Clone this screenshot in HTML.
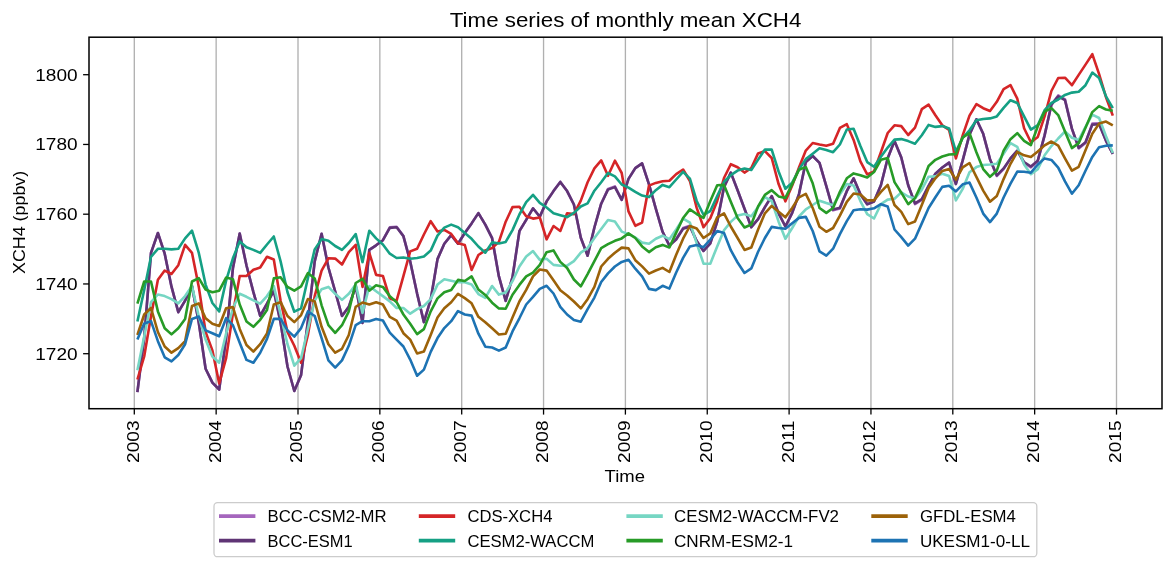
<!DOCTYPE html><html><head><meta charset="utf-8"><title>Time series of monthly mean XCH4</title>
<style>html,body{margin:0;padding:0;background:#fff}svg{display:block;will-change:transform;opacity:0.999}text{font-family:"Liberation Sans",sans-serif;fill:#000}</style></head><body>
<svg width="1173" height="568" viewBox="0 0 1173 568">
<rect width="1173" height="568" fill="#fff"/>
<line x1="134.30" y1="37.2" x2="134.30" y2="408.7" stroke="#b0b0b0" stroke-width="1.33"/>
<line x1="216.15" y1="37.2" x2="216.15" y2="408.7" stroke="#b0b0b0" stroke-width="1.33"/>
<line x1="298.00" y1="37.2" x2="298.00" y2="408.7" stroke="#b0b0b0" stroke-width="1.33"/>
<line x1="379.85" y1="37.2" x2="379.85" y2="408.7" stroke="#b0b0b0" stroke-width="1.33"/>
<line x1="461.70" y1="37.2" x2="461.70" y2="408.7" stroke="#b0b0b0" stroke-width="1.33"/>
<line x1="543.55" y1="37.2" x2="543.55" y2="408.7" stroke="#b0b0b0" stroke-width="1.33"/>
<line x1="625.40" y1="37.2" x2="625.40" y2="408.7" stroke="#b0b0b0" stroke-width="1.33"/>
<line x1="707.25" y1="37.2" x2="707.25" y2="408.7" stroke="#b0b0b0" stroke-width="1.33"/>
<line x1="789.10" y1="37.2" x2="789.10" y2="408.7" stroke="#b0b0b0" stroke-width="1.33"/>
<line x1="870.95" y1="37.2" x2="870.95" y2="408.7" stroke="#b0b0b0" stroke-width="1.33"/>
<line x1="952.80" y1="37.2" x2="952.80" y2="408.7" stroke="#b0b0b0" stroke-width="1.33"/>
<line x1="1034.65" y1="37.2" x2="1034.65" y2="408.7" stroke="#b0b0b0" stroke-width="1.33"/>
<line x1="1116.50" y1="37.2" x2="1116.50" y2="408.7" stroke="#b0b0b0" stroke-width="1.33"/>
<clipPath id="c"><rect x="89.0" y="37.2" width="1073.0" height="371.5"/></clipPath>
<g clip-path="url(#c)" fill="none" stroke-linejoin="round" stroke-linecap="butt">
<path d="M137.4 392.1 L144.2 338.1 L151.0 252.9 L157.9 233.0 L164.7 253.7 L171.5 286.7 L178.3 312.2 L185.1 300.7 L192.0 286.1 L198.8 322.8 L205.6 368.8 L212.4 382.6 L219.2 389.5 L226.1 338.1 L232.9 268.3 L239.7 233.5 L246.5 265.5 L253.4 292.2 L260.2 316.0 L267.0 303.7 L273.8 290.7 L280.6 322.8 L287.5 366.5 L294.3 391.0 L301.1 374.9 L307.9 321.2 L314.7 261.4 L321.6 233.8 L328.4 267.5 L335.2 291.5 L342.0 316.0 L348.8 306.8 L355.7 286.1 L362.5 322.9 L369.3 249.9 L376.1 245.3 L382.9 240.2 L389.8 227.3 L396.6 226.7 L403.4 236.1 L410.2 261.4 L417.1 293.6 L423.9 322.1 L430.7 299.7 L437.5 259.1 L444.3 243.7 L451.2 235.1 L458.0 243.7 L464.8 233.0 L471.6 223.4 L478.4 213.1 L485.3 224.7 L492.1 238.2 L498.9 276.4 L505.7 300.8 L512.5 277.2 L519.4 231.2 L526.2 219.8 L533.0 208.3 L539.8 216.8 L546.6 201.4 L553.5 191.1 L560.3 181.9 L567.1 191.1 L573.9 204.5 L580.8 237.8 L587.6 255.7 L594.4 227.5 L601.2 203.7 L608.0 188.9 L614.9 186.4 L621.7 199.9 L628.5 178.9 L635.3 168.1 L642.1 163.4 L649.0 184.4 L655.8 208.7 L662.6 231.8 L669.4 245.6 L676.2 238.9 L683.1 228.1 L689.9 225.8 L696.7 241.0 L703.5 251.0 L710.3 243.3 L717.2 221.7 L724.0 187.2 L730.8 172.6 L737.6 190.2 L744.5 208.7 L751.3 227.2 L758.1 219.2 L764.9 207.1 L771.7 196.1 L778.6 213.3 L785.4 226.5 L792.2 212.8 L799.0 194.1 L805.8 162.1 L812.7 156.0 L819.5 162.9 L826.3 186.2 L833.1 210.3 L839.9 208.4 L846.8 191.2 L853.6 178.3 L860.4 194.2 L867.2 204.2 L874.0 201.6 L880.9 185.2 L887.7 158.3 L894.5 141.1 L901.3 157.5 L908.2 185.2 L915.0 204.1 L921.8 199.8 L928.6 185.8 L935.4 173.7 L942.3 167.5 L949.1 162.6 L955.9 184.0 L962.7 160.4 L969.5 134.6 L976.4 119.3 L983.2 133.8 L990.0 159.2 L996.8 176.0 L1003.6 169.1 L1010.5 158.4 L1017.3 150.7 L1024.1 163.0 L1030.9 167.3 L1037.8 160.7 L1044.6 135.4 L1051.4 104.8 L1058.2 95.4 L1065.0 99.4 L1071.9 128.6 L1078.7 148.4 L1085.5 143.0 L1092.3 123.6 L1099.1 123.2 L1106.0 140.8 L1112.8 153.8" stroke="#a566bd" stroke-width="2.6"/>
<path d="M137.4 392.1 L144.2 338.1 L151.0 252.9 L157.9 233.0 L164.7 253.7 L171.5 286.7 L178.3 312.2 L185.1 300.7 L192.0 286.1 L198.8 322.8 L205.6 368.8 L212.4 382.6 L219.2 389.5 L226.1 338.1 L232.9 268.3 L239.7 233.5 L246.5 265.5 L253.4 292.2 L260.2 316.0 L267.0 303.7 L273.8 290.7 L280.6 322.8 L287.5 366.5 L294.3 391.0 L301.1 374.9 L307.9 321.2 L314.7 261.4 L321.6 233.8 L328.4 267.5 L335.2 291.5 L342.0 316.0 L348.8 306.8 L355.7 286.1 L362.5 322.9 L369.3 249.9 L376.1 245.3 L382.9 240.2 L389.8 227.9 L396.6 227.3 L403.4 236.1 L410.2 261.4 L417.1 293.6 L423.9 322.1 L430.7 299.7 L437.5 259.1 L444.3 243.7 L451.2 235.1 L458.0 243.7 L464.8 233.0 L471.6 223.4 L478.4 213.1 L485.3 224.7 L492.1 238.2 L498.9 276.4 L505.7 300.8 L512.5 277.2 L519.4 231.2 L526.2 219.8 L533.0 208.3 L539.8 216.8 L546.6 201.4 L553.5 191.1 L560.3 181.9 L567.1 191.1 L573.9 204.5 L580.8 237.8 L587.6 255.7 L594.4 227.5 L601.2 203.7 L608.0 189.6 L614.9 187.1 L621.7 199.9 L628.5 178.9 L635.3 168.1 L642.1 163.4 L649.0 184.4 L655.8 208.7 L662.6 231.8 L669.4 245.6 L676.2 239.5 L683.1 228.8 L689.9 226.5 L696.7 241.0 L703.5 251.0 L710.3 243.3 L717.2 221.7 L724.0 187.2 L730.8 172.6 L737.6 190.2 L744.5 208.7 L751.3 227.2 L758.1 219.2 L764.9 207.1 L771.7 196.1 L778.6 213.3 L785.4 226.5 L792.2 212.8 L799.0 194.1 L805.8 162.1 L812.7 156.0 L819.5 162.9 L826.3 186.2 L833.1 209.6 L839.9 207.7 L846.8 191.2 L853.6 178.3 L860.4 194.2 L867.2 204.2 L874.0 201.6 L880.9 185.2 L887.7 158.3 L894.5 141.1 L901.3 157.5 L908.2 185.2 L915.0 203.4 L921.8 199.1 L928.6 185.8 L935.4 173.7 L942.3 167.5 L949.1 162.6 L955.9 184.0 L962.7 160.4 L969.5 134.6 L976.4 119.3 L983.2 133.8 L990.0 159.2 L996.8 175.3 L1003.6 168.4 L1010.5 158.4 L1017.3 150.7 L1024.1 162.2 L1030.9 166.5 L1037.8 160.7 L1044.6 135.4 L1051.4 104.8 L1058.2 96.4 L1065.0 100.2 L1071.9 128.6 L1078.7 147.7 L1085.5 142.3 L1092.3 124.6 L1099.1 124.2 L1106.0 140.8 L1112.8 153.8" stroke="#5f3475" stroke-width="2.6"/>
<path d="M137.4 379.5 L144.2 356.5 L151.0 316.3 L157.9 279.8 L164.7 270.6 L171.5 274.0 L178.3 265.2 L185.1 244.8 L192.0 252.9 L198.8 286.9 L205.6 332.0 L212.4 350.4 L219.2 383.4 L226.1 358.1 L232.9 313.6 L239.7 276.0 L246.5 276.0 L253.4 269.8 L260.2 267.5 L267.0 256.8 L273.8 259.5 L280.6 300.7 L287.5 332.0 L294.3 345.8 L301.1 362.7 L307.9 335.0 L314.7 296.1 L321.6 270.6 L328.4 258.3 L335.2 258.6 L342.0 264.5 L348.8 252.2 L355.7 244.8 L362.5 286.9 L369.3 252.9 L376.1 274.9 L382.9 276.0 L389.8 298.4 L396.6 300.7 L403.4 276.1 L410.2 251.4 L417.1 248.8 L423.9 234.5 L430.7 221.2 L437.5 231.5 L444.3 229.9 L451.2 233.9 L458.0 243.3 L464.8 245.0 L471.6 270.0 L478.4 255.0 L485.3 250.4 L492.1 248.1 L498.9 241.9 L505.7 221.7 L512.5 207.1 L519.4 206.8 L526.2 216.3 L533.0 218.6 L539.8 217.5 L546.6 239.3 L553.5 226.0 L560.3 231.0 L567.1 213.2 L573.9 214.1 L580.8 200.6 L587.6 182.2 L594.4 168.4 L601.2 160.4 L608.0 175.8 L614.9 160.7 L621.7 173.0 L628.5 211.4 L635.3 225.8 L642.1 222.6 L649.0 185.6 L655.8 182.9 L662.6 181.3 L669.4 180.7 L676.2 174.1 L683.1 169.5 L689.9 181.0 L696.7 207.9 L703.5 227.2 L710.3 218.3 L717.2 201.0 L724.0 178.0 L730.8 164.2 L737.6 167.2 L744.5 172.6 L751.3 168.0 L758.1 153.4 L764.9 151.1 L771.7 158.0 L778.6 184.1 L785.4 201.3 L792.2 185.6 L799.0 167.5 L805.8 150.6 L812.7 143.0 L819.5 144.5 L826.3 145.7 L833.1 143.7 L839.9 127.9 L846.8 124.2 L853.6 139.9 L860.4 161.4 L867.2 174.4 L874.0 171.4 L880.9 152.2 L887.7 133.0 L894.5 125.3 L901.3 126.1 L908.2 135.0 L915.0 127.6 L921.8 109.2 L928.6 104.6 L935.4 115.3 L942.3 125.3 L949.1 129.9 L955.9 158.4 L962.7 135.4 L969.5 115.6 L976.4 104.1 L983.2 108.2 L990.0 111.0 L996.8 101.8 L1003.6 89.2 L1010.5 85.2 L1017.3 98.7 L1024.1 128.2 L1030.9 142.3 L1037.8 136.9 L1044.6 116.4 L1051.4 91.0 L1058.2 78.0 L1065.0 77.7 L1071.9 85.2 L1078.7 74.9 L1085.5 64.6 L1092.3 54.2 L1099.1 74.2 L1106.0 97.2 L1112.8 115.6" stroke="#d52527" stroke-width="2.6"/>
<path d="M137.4 321.4 L144.2 289.9 L151.0 256.8 L157.9 248.8 L164.7 248.8 L171.5 249.4 L178.3 248.8 L185.1 238.4 L192.0 230.7 L198.8 252.9 L205.6 284.6 L212.4 303.0 L219.2 311.4 L226.1 280.7 L232.9 258.3 L239.7 241.4 L246.5 247.3 L253.4 249.9 L260.2 252.9 L267.0 244.5 L273.8 236.5 L280.6 261.4 L287.5 292.2 L294.3 311.7 L301.1 308.3 L307.9 278.3 L314.7 249.4 L321.6 239.1 L328.4 240.7 L335.2 246.0 L342.0 249.9 L348.8 243.0 L355.7 234.1 L362.5 262.1 L369.3 230.7 L376.1 238.4 L382.9 244.5 L389.8 253.7 L396.6 258.0 L403.4 257.5 L410.2 258.8 L417.1 258.0 L423.9 256.5 L430.7 250.6 L437.5 235.6 L444.3 227.6 L451.2 224.6 L458.0 227.2 L464.8 232.9 L471.6 238.8 L478.4 246.5 L485.3 252.7 L492.1 242.4 L498.9 243.5 L505.7 241.9 L512.5 230.1 L519.4 214.5 L526.2 202.2 L533.0 194.8 L539.8 202.9 L546.6 207.5 L553.5 213.2 L560.3 215.2 L567.1 217.1 L573.9 212.9 L580.8 206.5 L587.6 203.4 L594.4 190.7 L601.2 182.2 L608.0 173.0 L614.9 176.4 L621.7 184.5 L628.5 187.6 L635.3 191.9 L642.1 195.6 L649.0 197.1 L655.8 190.2 L662.6 184.9 L669.4 187.2 L676.2 179.5 L683.1 171.8 L689.9 178.7 L696.7 201.0 L703.5 214.8 L710.3 211.0 L717.2 196.1 L724.0 181.8 L730.8 175.2 L737.6 170.6 L744.5 168.5 L751.3 170.0 L758.1 159.6 L764.9 149.6 L771.7 149.6 L778.6 171.5 L785.4 188.7 L792.2 182.6 L799.0 169.5 L805.8 159.1 L812.7 153.7 L819.5 148.3 L826.3 149.9 L833.1 152.2 L839.9 144.5 L846.8 129.5 L853.6 128.8 L860.4 146.0 L867.2 162.1 L874.0 166.8 L880.9 156.8 L887.7 147.6 L894.5 139.6 L901.3 139.1 L908.2 141.1 L915.0 143.7 L921.8 135.3 L928.6 124.9 L935.4 126.9 L942.3 126.1 L949.1 128.4 L955.9 151.6 L962.7 137.8 L969.5 130.3 L976.4 120.2 L983.2 119.0 L990.0 118.4 L996.8 116.4 L1003.6 107.9 L1010.5 100.2 L1017.3 103.0 L1024.1 116.4 L1030.9 129.6 L1037.8 125.1 L1044.6 110.2 L1051.4 103.0 L1058.2 99.5 L1065.0 94.9 L1071.9 92.6 L1078.7 91.8 L1085.5 85.2 L1092.3 72.6 L1099.1 78.0 L1106.0 96.4 L1112.8 108.2" stroke="#15a084" stroke-width="2.6"/>
<path d="M137.4 370.3 L144.2 336.6 L151.0 302.2 L157.9 294.5 L164.7 296.1 L171.5 299.1 L178.3 303.4 L185.1 296.1 L192.0 286.1 L198.8 316.6 L205.6 339.6 L212.4 356.5 L219.2 362.7 L226.1 333.5 L232.9 308.3 L239.7 293.8 L246.5 296.8 L253.4 300.4 L260.2 303.7 L267.0 296.1 L273.8 286.1 L280.6 314.5 L287.5 344.2 L294.3 365.7 L301.1 358.1 L307.9 328.9 L314.7 300.7 L321.6 289.2 L328.4 286.9 L335.2 293.8 L342.0 299.9 L348.8 293.8 L355.7 284.6 L362.5 312.9 L369.3 286.1 L376.1 291.2 L382.9 296.1 L389.8 301.4 L396.6 308.0 L403.4 308.0 L410.2 313.7 L417.1 309.1 L423.9 306.0 L430.7 299.1 L437.5 284.6 L444.3 279.2 L451.2 280.7 L458.0 282.3 L464.8 282.3 L471.6 284.4 L478.4 294.1 L485.3 297.8 L492.1 286.0 L498.9 294.6 L505.7 292.6 L512.5 281.2 L519.4 266.5 L526.2 256.5 L533.0 251.1 L539.8 259.9 L546.6 258.8 L553.5 264.9 L560.3 265.7 L567.1 265.7 L573.9 261.1 L580.8 252.7 L587.6 248.1 L594.4 238.1 L601.2 228.9 L608.0 220.0 L614.9 221.5 L621.7 231.6 L628.5 234.1 L635.3 237.5 L642.1 242.6 L649.0 243.8 L655.8 238.7 L662.6 235.7 L669.4 239.2 L676.2 229.4 L683.1 218.6 L689.9 222.6 L696.7 243.3 L703.5 263.7 L710.3 263.7 L717.2 246.4 L724.0 230.3 L730.8 221.9 L737.6 215.6 L744.5 214.0 L751.3 216.3 L758.1 207.1 L764.9 197.1 L771.7 201.0 L778.6 221.7 L785.4 238.7 L792.2 228.0 L799.0 216.5 L805.8 209.3 L812.7 205.0 L819.5 200.7 L826.3 203.1 L833.1 205.3 L839.9 194.2 L846.8 184.1 L853.6 185.6 L860.4 201.1 L867.2 214.2 L874.0 218.5 L880.9 204.2 L887.7 199.6 L894.5 198.8 L901.3 192.4 L908.2 196.5 L915.0 198.5 L921.8 189.6 L928.6 176.7 L935.4 176.4 L942.3 173.7 L949.1 176.0 L955.9 200.4 L962.7 188.9 L969.5 172.2 L976.4 167.1 L983.2 165.0 L990.0 164.5 L996.8 163.8 L1003.6 153.8 L1010.5 143.1 L1017.3 146.9 L1024.1 164.5 L1030.9 174.2 L1037.8 169.1 L1044.6 155.3 L1051.4 146.1 L1058.2 138.5 L1065.0 131.5 L1071.9 137.7 L1078.7 140.0 L1085.5 126.9 L1092.3 114.7 L1099.1 118.0 L1106.0 136.2 L1112.8 153.0" stroke="#76d6c3" stroke-width="2.6"/>
<path d="M137.4 303.7 L144.2 281.5 L151.0 281.5 L157.9 311.4 L164.7 328.3 L171.5 334.4 L178.3 328.3 L185.1 319.1 L192.0 281.5 L198.8 278.1 L205.6 289.6 L212.4 292.2 L219.2 290.7 L226.1 277.6 L232.9 279.2 L239.7 304.5 L246.5 321.4 L253.4 326.8 L260.2 319.8 L267.0 309.9 L273.8 278.4 L280.6 277.3 L287.5 286.9 L294.3 290.7 L301.1 286.4 L307.9 273.0 L314.7 278.4 L321.6 305.3 L328.4 325.2 L335.2 332.9 L342.0 325.2 L348.8 311.4 L355.7 283.0 L362.5 278.9 L369.3 290.7 L376.1 285.3 L382.9 286.9 L389.8 296.1 L396.6 302.2 L403.4 314.5 L410.2 323.7 L417.1 334.1 L423.9 329.1 L430.7 311.4 L437.5 298.4 L444.3 292.2 L451.2 289.9 L458.0 279.9 L464.8 281.0 L471.6 276.4 L478.4 289.5 L485.3 294.9 L492.1 302.7 L498.9 308.4 L505.7 308.8 L512.5 294.7 L519.4 284.9 L526.2 276.4 L533.0 272.6 L539.8 264.9 L546.6 252.2 L553.5 250.4 L560.3 261.9 L567.1 268.0 L573.9 279.5 L580.8 286.4 L587.6 274.1 L594.4 261.1 L601.2 248.1 L608.0 244.2 L614.9 240.8 L621.7 238.4 L628.5 233.4 L635.3 238.0 L642.1 246.4 L649.0 252.1 L655.8 247.2 L662.6 244.9 L669.4 247.5 L676.2 232.6 L683.1 218.0 L689.9 209.4 L696.7 214.0 L703.5 217.9 L710.3 201.0 L717.2 185.3 L724.0 184.9 L730.8 201.8 L737.6 218.0 L744.5 227.5 L751.3 224.5 L758.1 206.4 L764.9 194.8 L771.7 190.2 L778.6 196.4 L785.4 197.9 L792.2 184.1 L799.0 169.8 L805.8 167.1 L812.7 183.3 L819.5 208.0 L826.3 212.9 L833.1 208.0 L839.9 191.8 L846.8 178.3 L853.6 173.4 L860.4 175.2 L867.2 177.5 L874.0 172.1 L880.9 159.8 L887.7 158.0 L894.5 182.1 L901.3 192.7 L908.2 204.2 L915.0 198.1 L921.8 183.6 L928.6 166.0 L935.4 159.8 L942.3 156.5 L949.1 154.5 L955.9 154.1 L962.7 137.5 L969.5 133.1 L976.4 152.3 L983.2 169.1 L990.0 176.8 L996.8 170.7 L1003.6 150.7 L1010.5 139.2 L1017.3 133.1 L1024.1 140.8 L1030.9 145.1 L1037.8 126.2 L1044.6 111.6 L1051.4 108.2 L1058.2 115.1 L1065.0 131.5 L1071.9 148.1 L1078.7 143.1 L1085.5 127.7 L1092.3 112.1 L1099.1 106.1 L1106.0 109.5 L1112.8 110.7" stroke="#279b27" stroke-width="2.6"/>
<path d="M137.4 335.0 L144.2 314.5 L151.0 308.0 L157.9 332.0 L164.7 346.5 L171.5 352.7 L178.3 348.1 L185.1 341.2 L192.0 306.0 L198.8 303.4 L205.6 318.3 L212.4 323.7 L219.2 326.0 L226.1 308.3 L232.9 307.1 L239.7 328.9 L246.5 345.0 L253.4 351.6 L260.2 344.2 L267.0 333.5 L273.8 304.5 L280.6 302.2 L287.5 316.0 L294.3 322.1 L301.1 315.1 L307.9 299.1 L314.7 301.4 L321.6 326.8 L328.4 344.2 L335.2 352.7 L342.0 348.8 L348.8 335.0 L355.7 306.8 L362.5 302.5 L369.3 304.5 L376.1 302.2 L382.9 304.5 L389.8 316.8 L396.6 320.6 L403.4 333.2 L410.2 339.6 L417.1 353.5 L423.9 351.6 L430.7 335.0 L437.5 317.5 L444.3 308.3 L451.2 302.2 L458.0 293.8 L464.8 298.1 L471.6 303.3 L478.4 316.8 L485.3 322.2 L492.1 328.3 L498.9 334.5 L505.7 333.7 L512.5 317.6 L519.4 301.5 L526.2 289.9 L533.0 276.4 L539.8 269.5 L546.6 270.6 L553.5 280.3 L560.3 290.3 L567.1 295.5 L573.9 301.5 L580.8 308.4 L587.6 299.2 L594.4 286.9 L601.2 266.5 L608.0 258.8 L614.9 252.7 L621.7 247.6 L628.5 248.4 L635.3 260.2 L642.1 266.4 L649.0 273.6 L655.8 270.5 L662.6 267.9 L669.4 272.0 L676.2 254.8 L683.1 238.7 L689.9 226.0 L696.7 228.5 L703.5 238.0 L710.3 233.4 L717.2 217.3 L724.0 213.3 L730.8 226.5 L737.6 238.0 L744.5 249.9 L751.3 247.5 L758.1 229.5 L764.9 213.3 L771.7 205.9 L778.6 211.7 L785.4 217.3 L792.2 207.9 L799.0 197.3 L805.8 193.9 L812.7 208.0 L819.5 226.8 L826.3 231.8 L833.1 228.0 L839.9 215.7 L846.8 201.9 L853.6 193.5 L860.4 194.5 L867.2 200.4 L874.0 200.4 L880.9 191.9 L887.7 184.9 L894.5 205.0 L901.3 211.9 L908.2 224.1 L915.0 221.5 L921.8 205.0 L928.6 188.1 L935.4 178.3 L942.3 170.9 L949.1 169.1 L955.9 179.6 L962.7 167.3 L969.5 163.0 L976.4 176.8 L983.2 190.6 L990.0 201.7 L996.8 196.0 L1003.6 179.1 L1010.5 163.8 L1017.3 151.8 L1024.1 155.3 L1030.9 156.9 L1037.8 151.5 L1044.6 145.4 L1051.4 141.5 L1058.2 145.7 L1065.0 158.4 L1071.9 170.7 L1078.7 166.8 L1085.5 150.3 L1092.3 133.8 L1099.1 123.6 L1106.0 121.6 L1112.8 125.4" stroke="#9c6209" stroke-width="2.6"/>
<path d="M137.4 339.6 L144.2 323.5 L151.0 321.2 L157.9 341.2 L164.7 357.3 L171.5 361.4 L178.3 355.0 L185.1 344.2 L192.0 318.9 L198.8 316.6 L205.6 330.4 L212.4 333.2 L219.2 336.3 L226.1 318.2 L232.9 325.1 L239.7 342.7 L246.5 359.9 L253.4 362.7 L260.2 352.7 L267.0 338.9 L273.8 318.9 L280.6 318.9 L287.5 330.4 L294.3 336.6 L301.1 328.1 L307.9 311.4 L314.7 316.0 L321.6 338.1 L328.4 360.4 L335.2 367.6 L342.0 360.4 L348.8 345.8 L355.7 325.1 L362.5 321.2 L369.3 321.2 L376.1 318.9 L382.9 320.5 L389.8 332.7 L396.6 339.6 L403.4 346.5 L410.2 359.6 L417.1 375.7 L423.9 369.6 L430.7 351.9 L437.5 338.1 L444.3 328.1 L451.2 321.2 L458.0 311.1 L464.8 314.5 L471.6 315.6 L478.4 333.7 L485.3 346.7 L492.1 347.5 L498.9 350.6 L505.7 347.5 L512.5 331.4 L519.4 318.3 L526.2 304.5 L533.0 296.9 L539.8 288.9 L546.6 285.8 L553.5 293.5 L560.3 306.8 L567.1 314.5 L573.9 319.9 L580.8 321.7 L587.6 309.1 L594.4 297.6 L601.2 282.0 L608.0 273.4 L614.9 266.5 L621.7 261.9 L628.5 259.8 L635.3 268.7 L642.1 276.3 L649.0 288.9 L655.8 290.1 L662.6 285.8 L669.4 288.6 L676.2 272.5 L683.1 257.9 L689.9 246.4 L696.7 244.9 L703.5 247.2 L710.3 239.5 L717.2 231.1 L724.0 233.1 L730.8 250.2 L737.6 262.5 L744.5 273.0 L751.3 268.4 L758.1 251.8 L764.9 238.0 L771.7 226.9 L778.6 228.0 L785.4 228.8 L792.2 223.2 L799.0 217.9 L805.8 216.9 L812.7 231.0 L819.5 251.3 L826.3 255.6 L833.1 248.7 L839.9 234.1 L846.8 221.1 L853.6 210.3 L860.4 209.3 L867.2 209.6 L874.0 208.3 L880.9 204.2 L887.7 206.5 L894.5 229.5 L901.3 237.2 L908.2 245.6 L915.0 238.7 L921.8 223.4 L928.6 208.0 L935.4 197.3 L942.3 186.9 L949.1 185.8 L955.9 191.4 L962.7 184.3 L969.5 182.6 L976.4 197.5 L983.2 213.6 L990.0 222.1 L996.8 213.6 L1003.6 197.5 L1010.5 183.7 L1017.3 171.6 L1024.1 171.8 L1030.9 172.7 L1037.8 164.5 L1044.6 158.4 L1051.4 159.9 L1058.2 167.6 L1065.0 181.4 L1071.9 193.7 L1078.7 185.3 L1085.5 170.7 L1092.3 156.9 L1099.1 147.2 L1106.0 145.8 L1112.8 145.4" stroke="#1d73b3" stroke-width="2.6"/>
</g>
<rect x="89.0" y="37.2" width="1073.0" height="371.5" fill="none" stroke="#000" stroke-width="1.5" stroke-linejoin="miter"/>
<line x1="134.30" y1="408.7" x2="134.30" y2="414.6" stroke="#000" stroke-width="1.3"/>
<text transform="translate(138.70,462.9) rotate(-90)" font-size="16.7" textLength="42.4" lengthAdjust="spacingAndGlyphs">2003</text>
<line x1="216.15" y1="408.7" x2="216.15" y2="414.6" stroke="#000" stroke-width="1.3"/>
<text transform="translate(220.55,462.9) rotate(-90)" font-size="16.7" textLength="42.4" lengthAdjust="spacingAndGlyphs">2004</text>
<line x1="298.00" y1="408.7" x2="298.00" y2="414.6" stroke="#000" stroke-width="1.3"/>
<text transform="translate(302.40,462.9) rotate(-90)" font-size="16.7" textLength="42.4" lengthAdjust="spacingAndGlyphs">2005</text>
<line x1="379.85" y1="408.7" x2="379.85" y2="414.6" stroke="#000" stroke-width="1.3"/>
<text transform="translate(384.25,462.9) rotate(-90)" font-size="16.7" textLength="42.4" lengthAdjust="spacingAndGlyphs">2006</text>
<line x1="461.70" y1="408.7" x2="461.70" y2="414.6" stroke="#000" stroke-width="1.3"/>
<text transform="translate(466.10,462.9) rotate(-90)" font-size="16.7" textLength="42.4" lengthAdjust="spacingAndGlyphs">2007</text>
<line x1="543.55" y1="408.7" x2="543.55" y2="414.6" stroke="#000" stroke-width="1.3"/>
<text transform="translate(547.95,462.9) rotate(-90)" font-size="16.7" textLength="42.4" lengthAdjust="spacingAndGlyphs">2008</text>
<line x1="625.40" y1="408.7" x2="625.40" y2="414.6" stroke="#000" stroke-width="1.3"/>
<text transform="translate(629.80,462.9) rotate(-90)" font-size="16.7" textLength="42.4" lengthAdjust="spacingAndGlyphs">2009</text>
<line x1="707.25" y1="408.7" x2="707.25" y2="414.6" stroke="#000" stroke-width="1.3"/>
<text transform="translate(711.65,462.9) rotate(-90)" font-size="16.7" textLength="42.4" lengthAdjust="spacingAndGlyphs">2010</text>
<line x1="789.10" y1="408.7" x2="789.10" y2="414.6" stroke="#000" stroke-width="1.3"/>
<text transform="translate(793.50,462.9) rotate(-90)" font-size="16.7" textLength="42.4" lengthAdjust="spacingAndGlyphs">2011</text>
<line x1="870.95" y1="408.7" x2="870.95" y2="414.6" stroke="#000" stroke-width="1.3"/>
<text transform="translate(875.35,462.9) rotate(-90)" font-size="16.7" textLength="42.4" lengthAdjust="spacingAndGlyphs">2012</text>
<line x1="952.80" y1="408.7" x2="952.80" y2="414.6" stroke="#000" stroke-width="1.3"/>
<text transform="translate(957.20,462.9) rotate(-90)" font-size="16.7" textLength="42.4" lengthAdjust="spacingAndGlyphs">2013</text>
<line x1="1034.65" y1="408.7" x2="1034.65" y2="414.6" stroke="#000" stroke-width="1.3"/>
<text transform="translate(1039.05,462.9) rotate(-90)" font-size="16.7" textLength="42.4" lengthAdjust="spacingAndGlyphs">2014</text>
<line x1="1116.50" y1="408.7" x2="1116.50" y2="414.6" stroke="#000" stroke-width="1.3"/>
<text transform="translate(1120.90,462.9) rotate(-90)" font-size="16.7" textLength="42.4" lengthAdjust="spacingAndGlyphs">2015</text>
<line x1="83.1" y1="353.70" x2="89.0" y2="353.70" stroke="#000" stroke-width="1.3"/>
<text x="35.2" y="359.60" font-size="16.7" textLength="42.4" lengthAdjust="spacingAndGlyphs">1720</text>
<line x1="83.1" y1="283.95" x2="89.0" y2="283.95" stroke="#000" stroke-width="1.3"/>
<text x="35.2" y="289.85" font-size="16.7" textLength="42.4" lengthAdjust="spacingAndGlyphs">1740</text>
<line x1="83.1" y1="214.20" x2="89.0" y2="214.20" stroke="#000" stroke-width="1.3"/>
<text x="35.2" y="220.10" font-size="16.7" textLength="42.4" lengthAdjust="spacingAndGlyphs">1760</text>
<line x1="83.1" y1="144.45" x2="89.0" y2="144.45" stroke="#000" stroke-width="1.3"/>
<text x="35.2" y="150.35" font-size="16.7" textLength="42.4" lengthAdjust="spacingAndGlyphs">1780</text>
<line x1="83.1" y1="74.70" x2="89.0" y2="74.70" stroke="#000" stroke-width="1.3"/>
<text x="35.2" y="80.60" font-size="16.7" textLength="42.4" lengthAdjust="spacingAndGlyphs">1800</text>
<text x="449.8" y="27.3" font-size="19.9" textLength="351.6" lengthAdjust="spacingAndGlyphs">Time series of monthly mean XCH4</text>
<text x="604.6" y="482" font-size="16.8" textLength="40.4" lengthAdjust="spacingAndGlyphs">Time</text>
<text transform="translate(25.2,274) rotate(-90)" font-size="16.8" textLength="103.2" lengthAdjust="spacingAndGlyphs">XCH4 (ppbv)</text>
<rect x="214" y="502.7" width="822.8" height="54" rx="3.5" ry="3.5" fill="#fff" stroke="#cccccc" stroke-width="1.3"/>
<line x1="219.0" y1="516.1" x2="255.4" y2="516.1" stroke="#a566bd" stroke-width="3.6"/>
<text x="267.6" y="522.0" font-size="16.4" textLength="119.0" lengthAdjust="spacingAndGlyphs">BCC-CSM2-MR</text>
<line x1="219.0" y1="540.6" x2="255.4" y2="540.6" stroke="#5f3475" stroke-width="3.6"/>
<text x="267.6" y="546.5" font-size="16.4" textLength="85.0" lengthAdjust="spacingAndGlyphs">BCC-ESM1</text>
<line x1="418.8" y1="516.1" x2="455.2" y2="516.1" stroke="#d52527" stroke-width="3.6"/>
<text x="467.4" y="522.0" font-size="16.4" textLength="85.0" lengthAdjust="spacingAndGlyphs">CDS-XCH4</text>
<line x1="418.8" y1="540.6" x2="455.2" y2="540.6" stroke="#15a084" stroke-width="3.6"/>
<text x="467.4" y="546.5" font-size="16.4" textLength="127.0" lengthAdjust="spacingAndGlyphs">CESM2-WACCM</text>
<line x1="626.4" y1="516.1" x2="662.8" y2="516.1" stroke="#76d6c3" stroke-width="3.6"/>
<text x="674.0" y="522.0" font-size="16.4" textLength="165.0" lengthAdjust="spacingAndGlyphs">CESM2-WACCM-FV2</text>
<line x1="626.4" y1="540.6" x2="662.8" y2="540.6" stroke="#279b27" stroke-width="3.6"/>
<text x="674.0" y="546.5" font-size="16.4" textLength="119.0" lengthAdjust="spacingAndGlyphs">CNRM-ESM2-1</text>
<line x1="871.3" y1="516.1" x2="907.7" y2="516.1" stroke="#9c6209" stroke-width="3.6"/>
<text x="919.9" y="522.0" font-size="16.4" textLength="96.0" lengthAdjust="spacingAndGlyphs">GFDL-ESM4</text>
<line x1="871.3" y1="540.6" x2="907.7" y2="540.6" stroke="#1d73b3" stroke-width="3.6"/>
<text x="919.9" y="546.5" font-size="16.4" textLength="110.0" lengthAdjust="spacingAndGlyphs">UKESM1-0-LL</text>
</svg></body></html>
